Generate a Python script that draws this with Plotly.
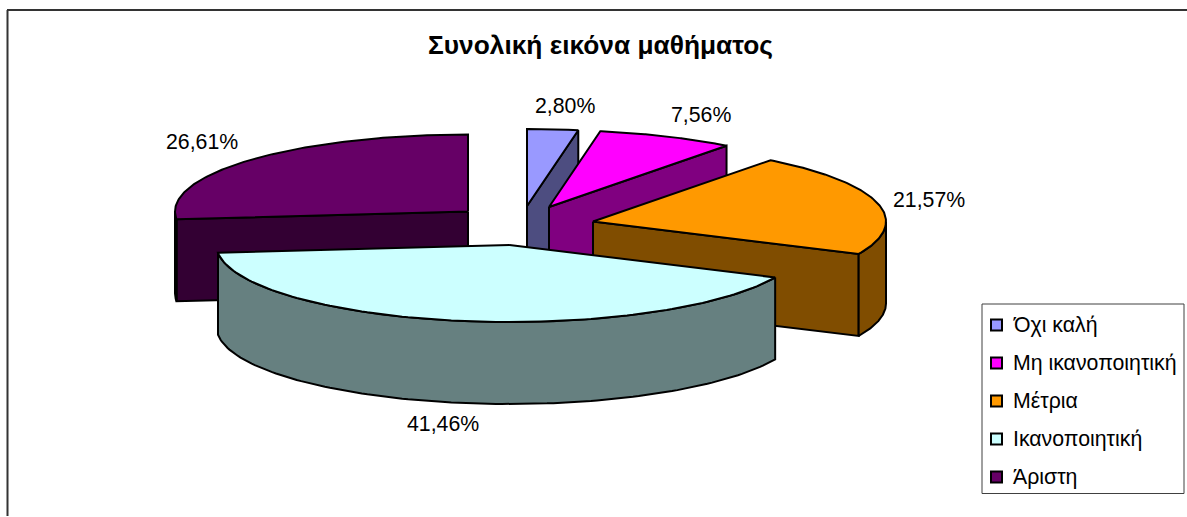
import numpy as np
import plotly.graph_objects as go

categories = ["Όχι καλή", "Μη ικανοποιητική", "Μέτρια", "Ικανοποιητική", "Άριστη"]
values = [2.80, 7.56, 21.57, 41.46, 26.61]
title_text = "Συνολική εικόνα μαθήματος"

top_colors = ["#9999FF", "#FF00FF", "#FF9900", "#CCFFFF", "#660066"]
side_colors = ["#4D4D80", "#800080", "#804D00", "#668080", "#330033"]

# Layout constants, in page pixels (the axes span the whole page)
W, H = 1187, 517
RX, RY, DEPTH = 293.0, 77.0, 82.0
apex_x = [527, 549, 593, 509.5, 468]
apex_y = [206, 207, 221.5, 245, 211.5]
label_x = [565, 701, 929, 443, 202]
label_y = [106, 115, 200, 424, 142]
draw_order = [4, 0, 1, 2, 3]
LABEL_SIZE = 21.3

fig = go.Figure()


def face(xs, ys, color):
    fig.add_trace(go.Scatter(
        x=list(xs) + [xs[0]], y=list(ys) + [ys[0]], mode="lines", fill="toself",
        fillcolor=color, line=dict(color="black", width=2), hoverinfo="skip", showlegend=False))


edges = np.concatenate([[0], np.cumsum(values)]) / sum(values) * 360.0

for i in draw_order:
    t0, t1 = edges[i], edges[i + 1]
    cx, cy = apex_x[i], apex_y[i]
    px = lambda t: cx + RX * np.sin(np.radians(t))
    py = lambda t: cy - RY * np.cos(np.radians(t))
    # radial faces that look towards the viewer
    if 0 < t1 < 180:
        face([cx, px(t1), px(t1), cx], [cy, py(t1), py(t1) + DEPTH, cy + DEPTH], side_colors[i])
    if 180 < t0 < 360:
        face([cx, px(t0), px(t0), cx], [cy, py(t0), py(t0) + DEPTH, cy + DEPTH], side_colors[i])
    # rim
    a0, a1 = max(t0, 90.0), min(t1, 270.0)
    if a1 > a0:
        ts = np.linspace(a0, a1, 120)
        rx, ry = px(ts), py(ts)
        face(np.concatenate([rx, rx[::-1]]), np.concatenate([ry, ry[::-1] + DEPTH]), side_colors[i])
    # top
    ts = np.linspace(t0, t1, 120)
    face(np.concatenate([[cx], px(ts)]), np.concatenate([[cy], py(ts)]), top_colors[i])

annotations = [
    dict(x=lx, y=ly, text=f"{v:.2f}%".replace(".", ","), showarrow=False, xanchor="center", yanchor="middle",
         font=dict(size=LABEL_SIZE, color="black"))
    for v, lx, ly in zip(values, label_x, label_y)
]

# Legend
LEG_L, LEG_R, LEG_T, LEG_B = 982, 1184, 304, 493.5
row_y = [325 + 38 * k for k in range(len(categories))]
for name, color, ry in zip(categories, top_colors, row_y):
    fig.add_trace(go.Scatter(
        x=[996.5], y=[ry], mode="markers", name=name, hoverinfo="name", showlegend=False,
        marker=dict(symbol="square", size=11, color=color, line=dict(color="black", width=2))))
    annotations.append(dict(x=1010.5, y=ry, text=name, showarrow=False, xanchor="left", yanchor="middle",
                            font=dict(size=LABEL_SIZE, color="black")))

shapes = [
    dict(type="rect", x0=LEG_L, x1=LEG_R, y0=LEG_T, y1=LEG_B, line=dict(color="#404040", width=1), layer="below"),
    dict(type="line", x0=7.5, x1=7.5, y0=10, y1=516, line=dict(color="#333333", width=2), layer="below"),
    dict(type="line", x0=7, x1=W, y0=10, y1=10, line=dict(color="#333333", width=2), layer="below"),
]

fig.update_layout(
    width=W, height=H, autosize=False,
    margin=dict(l=0, r=0, t=0, b=0),
    paper_bgcolor="white", plot_bgcolor="white",
    font=dict(family="Liberation Sans, Arial, sans-serif", color="black"),
    xaxis=dict(range=[0, W], visible=False, fixedrange=True),
    yaxis=dict(range=[H, 0], visible=False, fixedrange=True),
    title=dict(text="<b>" + title_text + "</b>", x=600.5 / W, xanchor="center", y=1 - 44.5 / H, yanchor="middle",
               font=dict(size=26.3, color="black")),
    showlegend=False,
    shapes=shapes,
    annotations=annotations,
)

fig.write_html("out.html", config=dict(displayModeBar=False),
               post_script="document.body.style.margin='0';document.documentElement.style.overflow='hidden';")
